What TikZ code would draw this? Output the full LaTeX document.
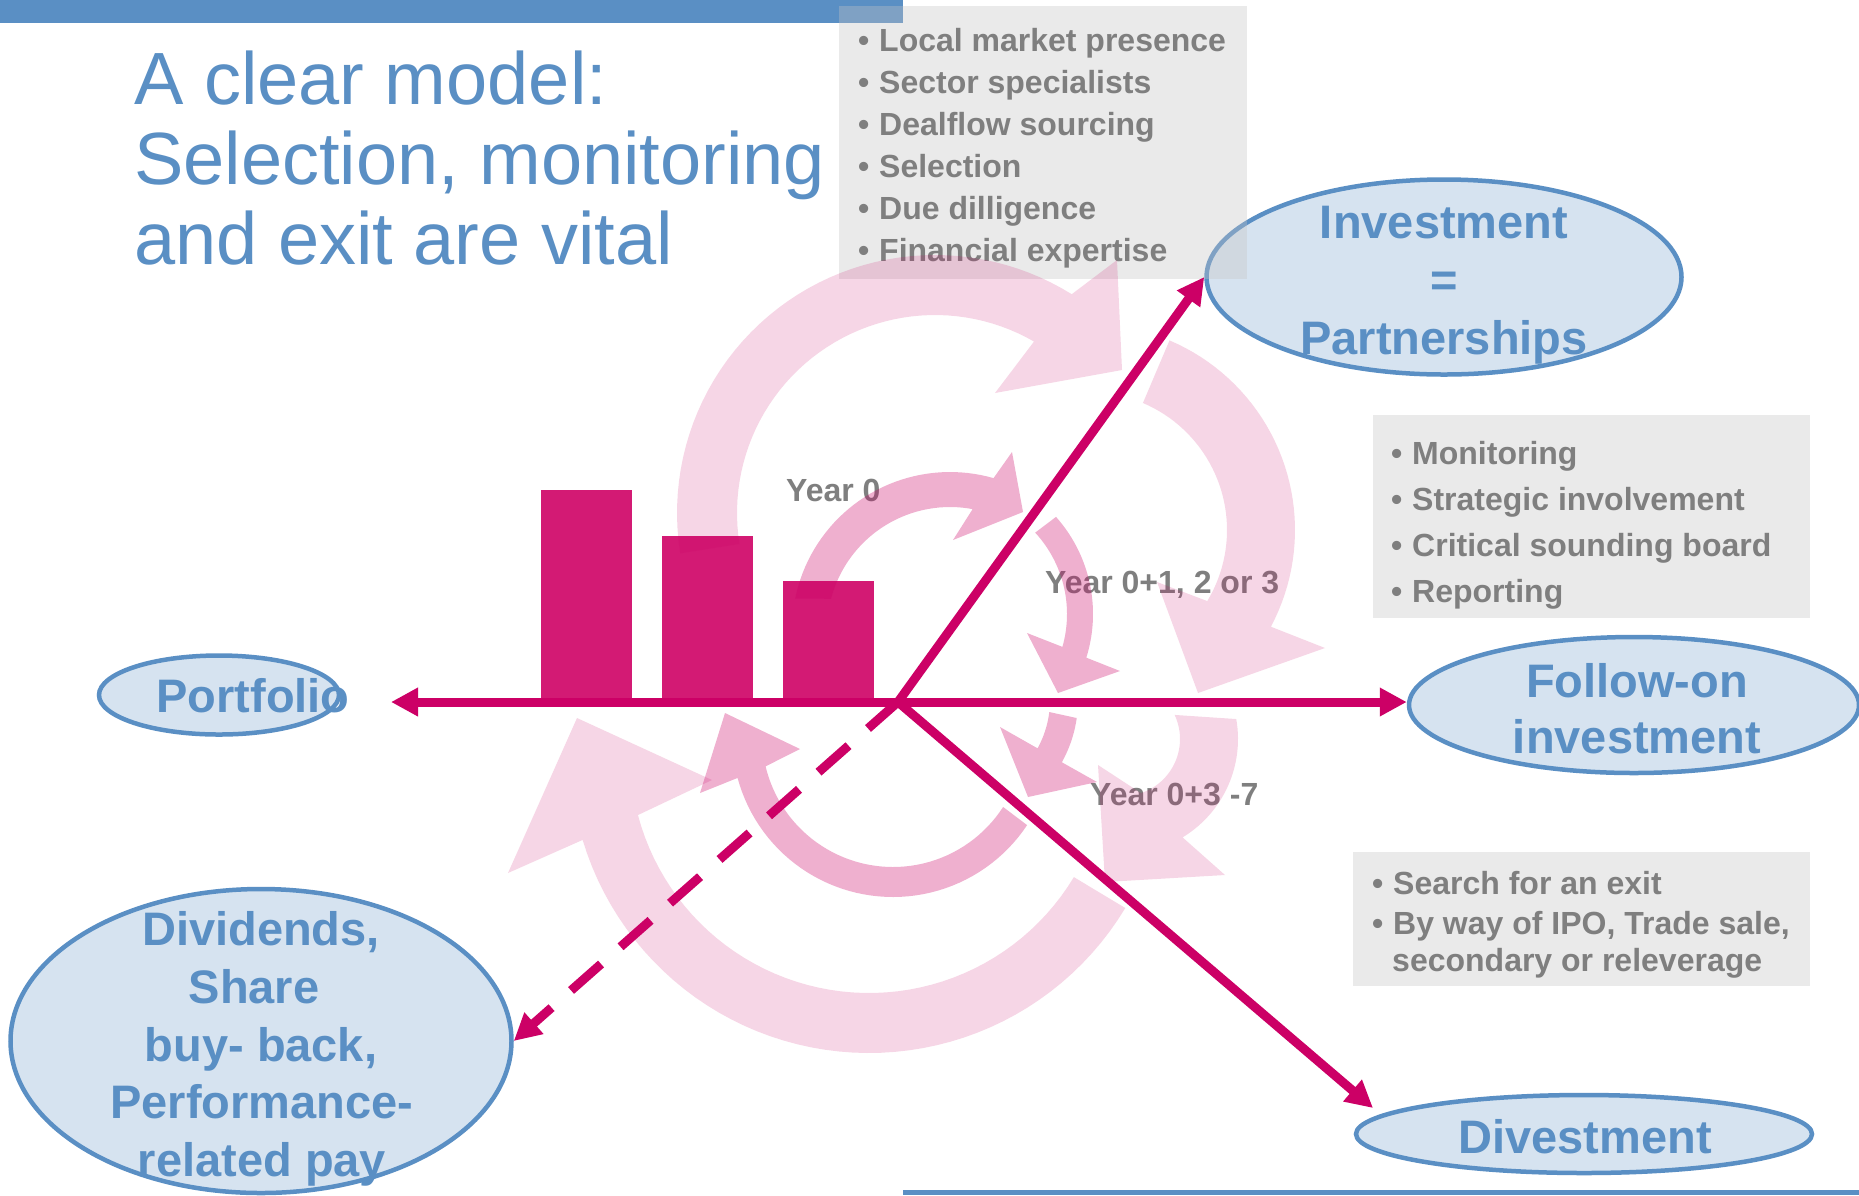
\documentclass[tikz,border=0pt]{standalone}
\usepackage{fontspec}
\setmainfont{Liberation Sans}
\usetikzlibrary{arrows.meta,shapes.geometric,calc}
\definecolor{blu}{RGB}{90,143,196}
\definecolor{elfill}{RGB}{214,227,240}
\definecolor{mag}{RGB}{204,0,102}
\definecolor{barc}{RGB}{211,26,116}
\definecolor{txtg}{RGB}{127,127,127}
\definecolor{boxg}{RGB}{197,197,197}
\newcommand{\bu}{\makebox[21pt][l]{•}}
\tikzset{
  ell/.style={ellipse, draw=blu, line width=4.5pt, fill=elfill, inner sep=0pt},
  eltxt/.style={anchor=base, text=blu, font=\fontsize{47}{56}\selectfont\bfseries, inner sep=0pt},
  bul/.style={anchor=base west, text=txtg, font=\fontsize{32}{40}\selectfont\bfseries, inner sep=0pt},
  greybox/.style={fill=boxg, fill opacity=0.35, draw=none, anchor=north west, inner sep=0pt},
  lpink/.style={fill=mag, fill opacity=0.16},
  mpink/.style={fill=mag, fill opacity=0.31},
  axis/.style={draw=mag, line width=9pt, -{Triangle[length=27pt,width=27pt]}},
  chartbar/.style={fill=barc},
  yr/.style={anchor=base west, text=txtg, font=\fontsize{32}{40}\selectfont\bfseries, inner sep=0pt},
  ttl/.style={anchor=base west, text=blu, font=\fontsize{74}{80}\selectfont, inner sep=0pt},
}
\begin{document}
\begin{tikzpicture}[x=1pt,y=-1pt]
\useasboundingbox (0,0) rectangle (1859,1195);
\fill[white] (0,0) rectangle (1859,1195);
% top and bottom bars
\fill[blu] (0,0) rectangle (903,23);
\fill[blu] (903,1190) rectangle (1859,1195);
% chart bars
\fill[chartbar] (541,490) rectangle (632,702);
\fill[chartbar] (662,536) rectangle (753,702);
\fill[chartbar] (783,581) rectangle (874,702);
% ellipses
\node[ell, minimum width=475pt, minimum height=195pt] (inv) at (1444,277) {};
\node[ell, minimum width=240pt, minimum height=79pt] (port) at (219,695) {};
\node[ell, minimum width=450pt, minimum height=136pt] (fol) at (1634,705) {};
\node[ell, minimum width=456pt, minimum height=78pt] (dvs) at (1584,1134) {};
\node[ell, minimum width=501pt, minimum height=304pt] (dvd) at (261,1041) {};
% grey boxes
\node[greybox, minimum width=408pt, minimum height=273pt] (box1) at (839,6) {};
\node[greybox, minimum width=437pt, minimum height=203pt] (box2) at (1373,415) {};
\node[greybox, minimum width=457pt, minimum height=134pt] (box3) at (1353,852) {};
% title
\node[ttl] (t1) at (134,104) {A clear model:};
\node[ttl] (t2) at (134,184) {Selection, monitoring};
\node[ttl] (t3) at (134,264) {and exit are vital};
% bullet texts
\node[bul] (a1) at (858,51) {\bu Local market presence};
\node[bul] (a2) at (858,93) {\bu Sector specialists};
\node[bul] (a3) at (858,135) {\bu Dealflow sourcing};
\node[bul] (a4) at (858,177) {\bu Selection};
\node[bul] (a5) at (858,219) {\bu Due dilligence};
\node[bul] (a6) at (858,261) {\bu Financial expertise};
\node[bul] (b1) at (1391,464) {\bu Monitoring};
\node[bul] (b2) at (1391,510) {\bu Strategic involvement};
\node[bul] (b3) at (1391,556) {\bu Critical sounding board};
\node[bul] (b4) at (1391,602) {\bu Reporting};
\node[bul] (c1) at (1372,894) {\bu Search for an exit};
\node[bul] (c2) at (1372,934) {\bu By way of IPO, Trade sale,};
\node[bul] (c3) at (1392,971) {secondary or releverage};
% year labels
\node[yr] (y0) at (786,501) {Year 0};
\node[yr] (y1) at (1045,593) {Year 0+1, 2 or 3};
\node[yr] (y2) at (1090,805) {Year 0+3 -7};
% ellipse texts
\node[eltxt] (inv1) at (1444,238) {Investment};
\node[eltxt] (inv2) at (1444,296) {=};
\node[eltxt] (inv3) at (1444,354) {Partnerships};
\node[eltxt] (port1) at (253,712) {Portfolio};
\node[eltxt] (fol1) at (1637,697) {Follow-on};
\node[eltxt] (fol2) at (1637,753) {investment};
\node[eltxt] (dvs1) at (1585,1153) {Divestment};
\node[eltxt] (dvd1) at (261,945) {Dividends,};
\node[eltxt] (dvd2) at (254,1003) {Share};
\node[eltxt] (dvd3) at (261,1061) {buy- back,};
\node[eltxt] (dvd4) at (262,1118) {Performance-};
\node[eltxt] (dvd5) at (262,1176) {related pay};
% outer (light) circular arrows
\fill[lpink] plot[domain=171:302,samples=50] ({935+258*cos(\x)},{513+258*sin(\x)})
  -- (1117,260) -- (1122,370) -- (995,393)
  -- plot[domain=300:171,samples=50] ({935+198*cos(\x)},{513+198*sin(\x)}) -- cycle;
\fill[lpink] plot[domain=-67:28,samples=40] ({1089+206*cos(\x)},{530+206*sin(\x)})
  -- (1325,648) -- (1198,693) -- (1157,582)
  -- plot[domain=31:-67,samples=40] ({1089+138*cos(\x)},{530+138*sin(\x)}) -- cycle;
\fill[lpink] plot[domain=-10:58.8,samples=30] ({1123+115*cos(\x)},{739+115*sin(\x)})
  -- (1225,875) -- (1105,882) -- (1098,765)
  -- plot[domain=71.6:-25,samples=30] ({1123+57*cos(\x)},{739+57*sin(\x)}) -- cycle;
\fill[lpink] plot[domain=31:163.3,samples=50] ({869+299*cos(\x)},{754+299*sin(\x)})
  -- (508,873) -- (577,718) -- (712,780)
  -- plot[domain=165.2:31,samples=50] ({869+239*cos(\x)},{754+239*sin(\x)}) -- cycle;
% inner (medium) circular arrows
\fill[mpink] plot[domain=191.5:286,samples=40] ({950+158*cos(\x)},{630+158*sin(\x)})
  -- (1012,452) -- (1023,512) -- (953,540)
  -- plot[domain=280.6:194.7,samples=40] ({950+123*cos(\x)},{630+123*sin(\x)}) -- cycle;
\fill[mpink] plot[domain=-41.7:17.4,samples=30] ({947+146*cos(\x)},{614+146*sin(\x)})
  -- (1120,671) -- (1058,693) -- (1027,633)
  -- plot[domain=15.9:-42.7,samples=30] ({947+120*cos(\x)},{614+120*sin(\x)}) -- cycle;
\fill[mpink] plot[domain=8.1:29.1,samples=20] ({950+128*cos(\x)},{700+128*sin(\x)})
  -- (1097,782) -- (1028,797) -- (1000,727)
  -- plot[domain=28.9:6.9,samples=20] ({950+100*cos(\x)},{700+100*sin(\x)}) -- cycle;
\fill[mpink] plot[domain=33.6:164.9,samples=50] ({893+161*cos(\x)},{736+161*sin(\x)})
  -- (700,793) -- (725,713) -- (800,749)
  -- plot[domain=166.6:32.8,samples=50] ({893+131*cos(\x)},{736+131*sin(\x)}) -- cycle;
% axes
\coordinate (o) at (898,702);
\coordinate (tipP) at (391,702);
\coordinate (tipD) at (1373,1108);
\draw[axis] (o) -- (tipP);
\draw[axis] (o) -- (o -| fol.west);
\draw[axis] (o) -- (inv.west);
\draw[axis] (o) -- (tipD);
\draw[axis, dash pattern=on 40pt off 26pt] (o) -- (dvd.east);
\end{tikzpicture}
\end{document}
